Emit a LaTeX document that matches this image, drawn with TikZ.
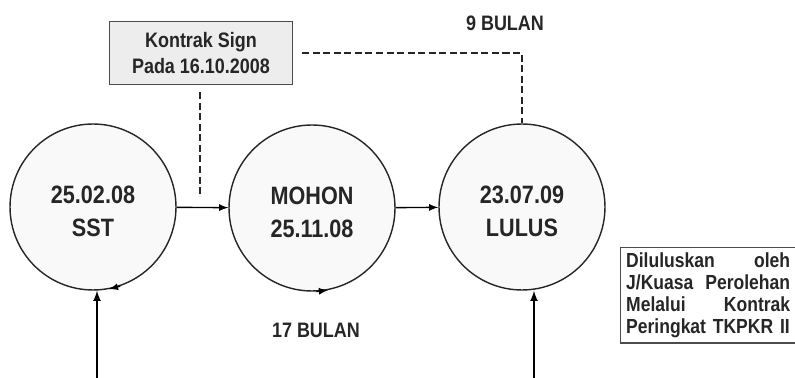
\documentclass[tikz,border=0pt]{standalone}
\usepackage{fontspec}
\setmainfont{Liberation Sans}[FakeStretch=0.86]
\usetikzlibrary{arrows, positioning, calc}
\newcommand{\circtext}[2]{\raisebox{-0.13cm}[\height][\depth]{\begin{tabular}{@{}c@{}}#1\\#2\end{tabular}}}
\begin{document}
\begin{tikzpicture}[x=0.02cm, y=-0.02cm, text=black!85]
	\tikzstyle{Node} = [ %basic look of the boxes and circles
		text centered,
		draw=black!85,
		line width=0.8pt
	]
	\tikzstyle{CircNode} = [
		circle,
		minimum size=3.32cm,
		fill=gray!5,
		align=center,
		font=\bfseries\fontsize{14.3}{19}\selectfont,
		Node
	]
	\tikzstyle{BoxNode} = [
		rectangle,
		align=center,
		font=\bfseries\fontsize{11.9}{15.3}\selectfont,
		Node
	]
	\tikzstyle{Label} = [
		font=\bfseries\fontsize{11.9}{14}\selectfont
	]
	\tikzstyle{DashLine} = [
		draw=black!85,
		line width=1.5pt,
		dash pattern=on 4pt off 2pt
	]
	\useasboundingbox (0,0) rectangle (795,378);

	\node (sst) [CircNode] at (93,207) {\circtext{25.02.08}{SST}};
	\node (mohon) [CircNode] at (312,208) {\circtext{MOHON}{25.11.08}};
	\node (lulus) [CircNode] at (522,207) {\circtext{23.07.09}{LULUS}};

	\node (kontrak) [BoxNode, fill=gray!14, draw=black!70, minimum width=3.66cm, minimum height=1.26cm] at (201,53) {Kontrak Sign\\Pada 16.10.2008};

	\node (nine) [Label] at (505,23) {9 BULAN};
	\node (seventeen) [Label] at (316,330) {17 BULAN};

	\node (tkpkr) [Node, anchor=north west, align=left, text width=3.28cm, inner sep=0.11cm, draw=black!70,
		font=\bfseries\fontsize{11.6}{11.3}\selectfont] at (620,247)
		{\makebox[\hsize]{Diluluskan\hfill oleh}\\[1.1pt]
		 \makebox[\hsize]{J/Kuasa\hfill Perolehan}\\[1.1pt]
		 \makebox[\hsize]{Melalui\hfill Kontrak}\\[1.1pt]
		 Peringkat TKPKR II};

	\draw[-latex, thick] (sst) -- (mohon);
	\draw[-latex, thick] (mohon) -- (lulus);

	\coordinate (kdrop) at (200,196);
	\coordinate (corner) at (lulus.north |- kontrak.east);
	\draw[DashLine, shorten <=0.14cm] (kontrak.south -| kdrop) -- (kdrop);
	\draw[DashLine, shorten <=0.18cm] (kontrak.east) -- (corner) -- (lulus.north);

	\coordinate (inA) at (97,378);
	\coordinate (inB) at (534,378);
	\draw[-latex, line width=1pt] (inA) -- (inA |- sst.south);
	\draw[-latex, line width=1pt] (inB) -- (inB |- lulus.south);

	\draw[-latex, thick] (sst.-71) -- (sst.-79);
	\draw[-latex, thick] (mohon.-87) -- (mohon.-79);
\end{tikzpicture}
\end{document}
